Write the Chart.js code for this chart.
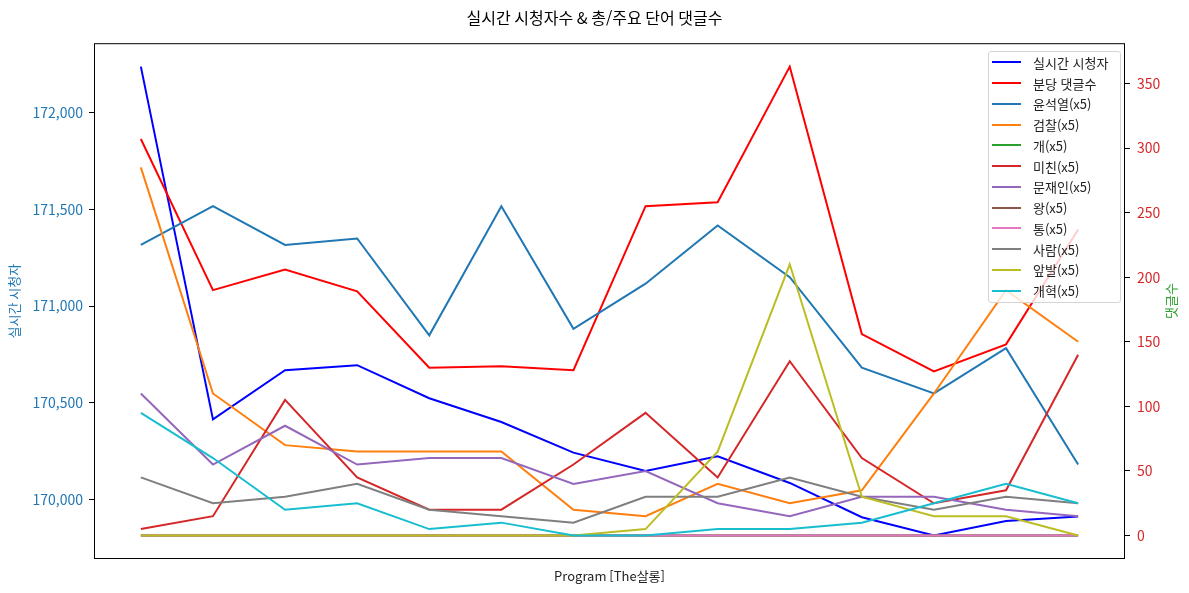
<!DOCTYPE html>
<html lang="ko">
<head>
<meta charset="utf-8">
<title>실시간 시청자수 & 총/주요 단어 댓글수</title>
<script src="https://cdn.jsdelivr.net/npm/chart.js@4.4.1/dist/chart.umd.min.js"></script>
<style>
    body { margin: 0; background: #fff; }
    #wrap { position: relative; width: 1189px; height: 593px; }
    #legend {
        position: absolute; left: 988px; top: 51px; width: 131px;
        padding: 0 0 1px; border: 1px solid #d5d5d5; border-radius: 3px;
        background: rgba(255, 255, 255, 0.8);
        font: 13px 'Noto Sans CJK KR', sans-serif; color: #222;
    }
    .item { display: flex; align-items: center; height: 20.75px; white-space: nowrap; }
    .swatch { width: 29px; height: 0; border-top: 2px solid; margin: 0 12px 0 3px; }
</style>
</head>
<body>
<div id="wrap">
    <canvas id="chart"></canvas>
    <div id="legend"></div>
</div>
<script>
// values per program slot (14 slots, no x labels in the original)
var viewers = [172238, 170414, 170668, 170694, 170523, 170400, 170242, 170147, 170223, 170085, 169908, 169813, 169888, 169912];
var commentsPerMin = [307, 190, 206, 189, 130, 131, 128, 255, 258, 363, 156, 127, 148, 237];
var yoon = [225, 255, 225, 230, 155, 255, 160, 195, 240, 200, 130, 110, 145, 55];
var prosecution = [285, 110, 70, 65, 65, 65, 20, 15, 40, 25, 35, 110, 190, 150];
var dog = [0, 0, 0, 0, 0, 0, 0, 0, 0, 0, 0, 0, 0, 0];
var crazy = [5, 15, 105, 45, 20, 20, 55, 95, 45, 135, 60, 25, 35, 140];
var moon = [110, 55, 85, 55, 60, 60, 40, 50, 25, 15, 30, 30, 20, 15];
var king = [0, 0, 0, 0, 0, 0, 0, 0, 0, 0, 0, 0, 0, 0];
var tong = [0, 0, 0, 0, 0, 0, 0, 0, 0, 0, 0, 0, 0, 0];
var people = [45, 25, 30, 40, 20, 15, 10, 30, 30, 45, 30, 20, 30, 25];
var paw = [0, 0, 0, 0, 0, 0, 0, 5, 65, 210, 30, 15, 15, 0];
var reform = [95, 60, 20, 25, 5, 10, 0, 0, 5, 5, 10, 25, 40, 25];

var viewerTicks = [170000, 170500, 171000, 171500, 172000];
var commentTicks = [0, 50, 100, 150, 200, 250, 300, 350];

var wordLines = [
    ['윤석열(x5)', yoon, '#1f77b4'],
    ['검찰(x5)', prosecution, '#ff7f0e'],
    ['개(x5)', dog, '#2ca02c'],
    ['미친(x5)', crazy, '#d62728'],
    ['문재인(x5)', moon, '#9467bd'],
    ['왕(x5)', king, '#8c564b'],
    ['통(x5)', tong, '#e377c2'],
    ['사람(x5)', people, '#7f7f7f'],
    ['앞발(x5)', paw, '#bcbd22'],
    ['개혁(x5)', reform, '#17becf']
];

var FONT = "'Noto Sans CJK KR', 'DejaVu Sans', sans-serif";
Chart.defaults.font.family = FONT;
Chart.defaults.color = '#222';

function toPoints(arr) {
    return arr.map(function (v, i) { return { x: i, y: v }; });
}

// matplotlib style 5% margins
function padRange(arrays) {
    var all = [].concat.apply([], arrays);
    var lo = Math.min.apply(null, all), hi = Math.max.apply(null, all);
    var m = (hi - lo) * 0.05;
    return [lo - m, hi + m];
}

var datasets = [
    { label: '실시간 시청자', data: toPoints(viewers), borderColor: '#0000ff', yAxisID: 'y' },
    { label: '분당 댓글수', data: toPoints(commentsPerMin), borderColor: '#ff0000', yAxisID: 'y1' }
];
wordLines.forEach(function (w) {
    datasets.push({ label: w[0], data: toPoints(w[1]), borderColor: w[2], yAxisID: 'y1' });
});
datasets.forEach(function (ds, i) {
    ds.backgroundColor = ds.borderColor;
    ds.borderWidth = 2;
    ds.pointRadius = 0;
    ds.tension = 0;
    ds.order = datasets.length - i; // later series on top like matplotlib
});

var leftRange = padRange([viewers]);
var rightRange = padRange([commentsPerMin].concat(wordLines.map(function (w) { return w[1]; })));

var framePlugin = {
    id: 'frame',
    afterDatasetsDraw: function (chart) {
        var a = chart.chartArea, ctx = chart.ctx;
        ctx.save();
        ctx.strokeStyle = '#000';
        ctx.lineWidth = 1;
        ctx.strokeRect(a.left + 0.5, a.top + 0.5, a.right - a.left - 1, a.bottom - a.top - 1);
        ctx.restore();
    },
    afterDraw: function (chart) {
        // right axis title reads bottom-to-top in the original
        var a = chart.chartArea, ctx = chart.ctx;
        ctx.save();
        ctx.translate(1171, (a.top + a.bottom) / 2);
        ctx.rotate(-Math.PI / 2);
        ctx.fillStyle = '#2ca02c';
        ctx.font = '13px ' + FONT;
        ctx.textAlign = 'center';
        ctx.textBaseline = 'middle';
        ctx.fillText('댓글수', 0, 0);
        ctx.restore();
    }
};

var myChart = new Chart(document.getElementById('chart').getContext('2d'), {
    type: 'line',
    data: { datasets: datasets },
    options: {
        responsive: true,
        maintainAspectRatio: false,
        animation: false,
        layout: { padding: 0 },
        plugins: {
            legend: { display: false },
            tooltip: { enabled: false },
            title: {
                display: true,
                text: '실시간 시청자수 & 총/주요 단어 댓글수',
                color: '#000',
                font: { size: 16, weight: 'normal' },
                padding: { top: 8, bottom: 16 }
            }
        },
        scales: {
            x: {
                type: 'linear',
                min: -0.65,
                max: 13.65,
                ticks: { display: false },
                grid: { display: false },
                border: { display: false },
                title: {
                    display: true,
                    text: 'Program [The살롱]',
                    color: '#222',
                    font: { size: 13 },
                    padding: { top: 0, bottom: 9 }
                },
                afterFit: function (s) { s.height = 34; }
            },
            y: {
                position: 'left',
                min: leftRange[0],
                max: leftRange[1],
                afterBuildTicks: function (s) {
                    s.ticks = viewerTicks.map(function (v) { return { value: v }; });
                },
                ticks: {
                    color: '#1f77b4',
                    font: { size: 14 },
                    padding: 6,
                    callback: function (v) { return v.toLocaleString('en-US'); }
                },
                grid: { drawOnChartArea: false, tickLength: 5, color: '#000' },
                border: { display: false },
                title: {
                    display: true,
                    text: '실시간 시청자',
                    color: '#1f77b4',
                    font: { size: 13 },
                    padding: { top: 6, bottom: 0 }
                },
                afterFit: function (s) { s.width = 94; }
            },
            y1: {
                position: 'right',
                min: rightRange[0],
                max: rightRange[1],
                afterBuildTicks: function (s) {
                    s.ticks = commentTicks.map(function (v) { return { value: v }; });
                },
                ticks: {
                    color: '#d62728',
                    font: { size: 14 },
                    padding: 7
                },
                grid: { drawOnChartArea: false, tickLength: 5, color: '#000' },
                border: { display: false },
                afterFit: function (s) { s.width = 64; }
            }
        }
    },
    plugins: [framePlugin]
});

// legend box inside the plot, top right
var legendBox = document.getElementById('legend');
myChart.data.datasets.forEach(function (ds) {
    var item = document.createElement('div');
    item.className = 'item';
    var sw = document.createElement('span');
    sw.className = 'swatch';
    sw.style.borderTopColor = ds.borderColor;
    var txt = document.createElement('span');
    txt.textContent = ds.label;
    item.appendChild(sw);
    item.appendChild(txt);
    legendBox.appendChild(item);
});
</script>
</body>
</html>
